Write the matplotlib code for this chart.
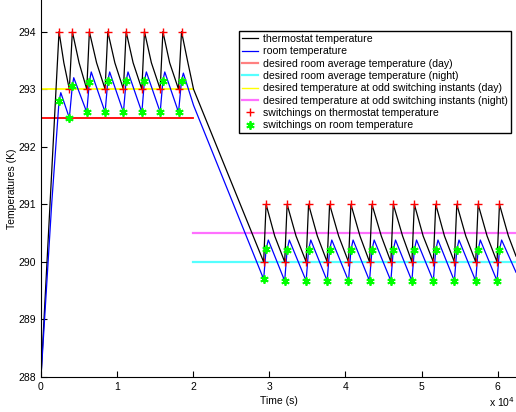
import matplotlib
matplotlib.use("Agg")
import matplotlib.pyplot as plt
import numpy as np
from matplotlib.lines import Line2D

# thermostat temperature trace (s, K)
thermo_t = [0, 2368, 3000, 3724, 4118, 5000, 6013, 6355, 7300, 8421, 8776, 9700,
            10829, 11184, 12100, 13250, 13592, 14500, 15658, 16013, 16900, 18066,
            18461, 19300, 20040, 29250, 29570, 30700, 32013, 32333, 33500, 34829,
            35149, 36300, 37592, 37912, 39100, 40395, 40715, 41900, 43158, 43478,
            44700, 45961, 46281, 47500, 48724, 49044, 50200, 51539, 51859, 53000,
            54303, 54623, 55800, 57105, 57425, 58600, 59908, 60228, 61400, 62400]
thermo_T = [288.0, 294.0, 293.46, 293.0, 294.0, 293.46, 293.0, 294.0, 293.46, 293.0,
            294.0, 293.46, 293.0, 294.0, 293.46, 293.0, 294.0, 293.46, 293.0, 294.0,
            293.46, 293.0, 294.0, 293.46, 293.0, 290.0, 291.0, 290.45, 290.0, 291.0,
            290.45, 290.0, 291.0, 290.45, 290.0, 291.0, 290.45, 290.0, 291.0, 290.45,
            290.0, 291.0, 290.45, 290.0, 291.0, 290.45, 290.0, 291.0, 290.45, 290.0,
            291.0, 290.45, 290.0, 291.0, 290.45, 290.0, 291.0, 290.45, 290.0, 291.0,
            290.45, 290.1]

# room temperature trace (s, K)
room_t = [0, 1400, 2368, 2600, 3724, 4118, 4300, 6013, 6355, 6600, 8421, 8776, 9020,
          10829, 11184, 11430, 13250, 13592, 13840, 15658, 16013, 16260, 18066, 18461,
          18700, 20040, 29250, 29570, 29860, 32013, 32333, 32620, 34829, 35149, 35440,
          37592, 37912, 38200, 40395, 40715, 41000, 43158, 43478, 43770, 45961, 46281,
          46570, 48724, 49044, 49330, 51539, 51859, 52150, 54303, 54623, 54910, 57105,
          57425, 57710, 59908, 60228, 60510, 62400]
room_T = [288.0, 291.0, 292.79, 292.94, 292.50, 293.06, 293.20, 292.60, 293.13, 293.30,
          292.60, 293.145, 293.30, 292.60, 293.15, 293.30, 292.60, 293.15, 293.30,
          292.60, 293.15, 293.30, 292.60, 293.15, 293.28, 292.72, 289.70, 290.22,
          290.38, 289.67, 290.21, 290.38, 289.67, 290.21, 290.38, 289.67, 290.21,
          290.38, 289.67, 290.21, 290.38, 289.67, 290.21, 290.38, 289.67, 290.21,
          290.38, 289.67, 290.21, 290.38, 289.67, 290.21, 290.38, 289.67, 290.21,
          290.38, 289.67, 290.21, 290.38, 289.67, 290.21, 290.38, 289.82]

# switching instants (s)
switch_t = [2368, 3724, 4118, 6013, 6355, 8421, 8776, 10829, 11184, 13250, 13592,
            15658, 16013, 18066, 18461, 29250, 29570, 32013, 32333, 34829, 35149,
            37592, 37912, 40395, 40715, 43158, 43478, 45961, 46281, 48724, 49044,
            51539, 51859, 54303, 54623, 57105, 57425, 59908, 60228]

day_span = [0, 20000]
night_span = [20000, 62400]
avg_day, avg_night = 292.5, 290.0
odd_day, odd_night = 293.0, 290.5

RED, YEL, CYA, MAG, GRN = "#ff0000", "#ffff00", "#55ffff", "#ff70ff", "#00ff00"

plt.rcParams["font.family"] = ["Liberation Sans", "DejaVu Sans"]

fig = plt.figure(figsize=(5.16, 4.12), dpi=100)
ax = fig.add_axes([41 / 516, 35 / 412, 1 - 41 / 516, 1 - 35 / 412])

ax.plot(day_span, [avg_day] * 2, color=RED, lw=1.3)
ax.plot(day_span, [odd_day] * 2, color=YEL, lw=1.3)
ax.plot(night_span, [avg_night] * 2, color=CYA, lw=1.6)
ax.plot(night_span, [odd_night] * 2, color=MAG, lw=1.6)

ax.plot(thermo_t, thermo_T, color="k", lw=0.9)
ax.plot(room_t, room_T, color="b", lw=0.9)

th_t = np.array(thermo_t)
th_T = np.array(thermo_T)
rm_t = np.array(room_t)
rm_T = np.array(room_T)
th_sel = np.isin(th_t, switch_t)
rm_sel = np.isin(rm_t, switch_t)
ax.plot(th_t[th_sel], th_T[th_sel], "+", color=RED, ms=6, mew=1.0)
ax.plot(rm_t[rm_sel], rm_T[rm_sel], ls="none", marker=(6, 2, 0),
        color=GRN, ms=6, mew=1.3)

ax.set_xlim(0, 62400)
ax.set_ylim(288, 294.55)
ax.set_xticks(np.arange(0, 7) * 1e4)
ax.set_xticklabels([str(i) for i in range(7)])
ax.set_yticks(np.arange(288, 295))
ax.tick_params(direction="in", length=4, labelsize=7.5, width=0.8)
ax.spines["top"].set_visible(False)
ax.spines["right"].set_visible(False)
ax.set_xlabel("Time (s)", fontsize=7.5, labelpad=3)
ax.set_ylabel("Temperatures (K)", fontsize=7.5, labelpad=1)
fig.text(489 / 516, 0.008, r"x 10$^4$", fontsize=7.5, ha="left", va="bottom")

handles = [
    Line2D([], [], color="k", lw=0.9),
    Line2D([], [], color="b", lw=0.9),
    Line2D([], [], color="#ff8080", lw=1.6),
    Line2D([], [], color=CYA, lw=1.6),
    Line2D([], [], color=YEL, lw=1.0),
    Line2D([], [], color=MAG, lw=1.6),
    Line2D([], [], ls="none", marker="+", color=RED, ms=6),
    Line2D([], [], ls="none", marker=(6, 2, 0), color=GRN, ms=6, mew=1.3),
]
labels = [
    "thermostat temperature",
    "room temperature",
    "desired room average temperature (day)",
    "desired room average temperature (night)",
    "desired temperature at odd switching instants (day)",
    "desired temperature at odd switching instants (night)",
    "switchings on thermostat temperature",
    "switchings on room temperature",
]
leg = fig.legend(handles, labels, loc="upper right", bbox_to_anchor=(0.99, 0.925),
                 fontsize=7.6, fancybox=False, framealpha=1, edgecolor="k",
                 handlelength=1.5, handletextpad=0.5, labelspacing=0.22,
                 borderpad=0.3, borderaxespad=0)
leg.get_frame().set_linewidth(1.0)

fig.savefig("out.png", dpi=100)
